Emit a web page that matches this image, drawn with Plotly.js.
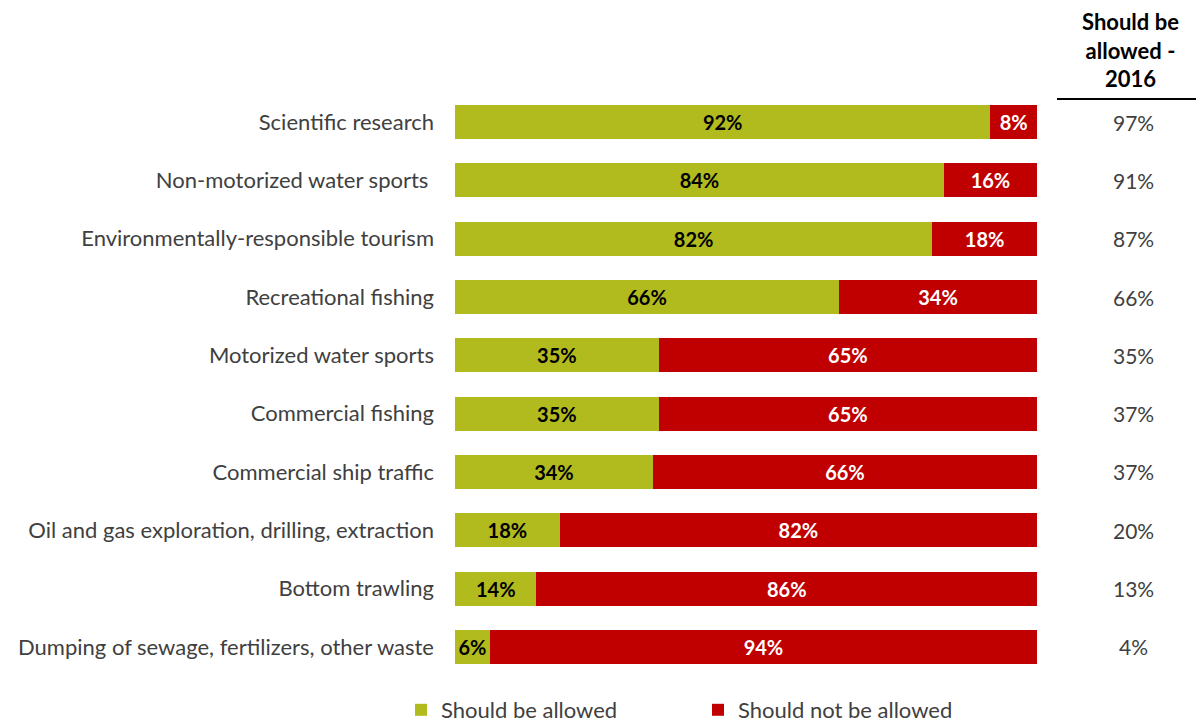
<!DOCTYPE html>
<html>
<head>
<meta charset="utf-8">
<script src="https://cdn.plot.ly/plotly-3.0.1.min.js"></script>
<style>html,body{margin:0;padding:0;background:#fff;}#chart{width:1196px;height:722px;}</style>
</head>
<body>
<div id="chart"></div>
<script>
const categories = [
  "Scientific research",
  "Non-motorized water sports ",
  "Environmentally-responsible tourism",
  "Recreational fishing",
  "Motorized water sports",
  "Commercial fishing",
  "Commercial ship traffic",
  "Oil and gas exploration, drilling, extraction",
  "Bottom trawling",
  "Dumping of sewage, fertilizers, other waste"
];
const allowed = [92, 84, 82, 66, 35, 35, 34, 18, 14, 6];
const notAllowed = [8, 16, 18, 34, 65, 65, 66, 82, 86, 94];
const allowed2016 = [97, 91, 87, 66, 35, 37, 37, 20, 13, 4];
const seriesNames = ["Should be allowed", "Should not be allowed"];
const columnHeader = "Should be<br>allowed -<br>2016";

const FONT = "Lato, 'Open Sans', sans-serif";
const W = 1196, H = 722;
const plotLeft = 455, plotRight = 1037, plotTop = 93, plotBottom = 676;
const plotW = plotRight - plotLeft, plotH = plotBottom - plotTop;

const traces = [
  {
    type: "bar", orientation: "h", name: seriesNames[0],
    y: categories, x: allowed,
    marker: {color: "#B2BB1E"},
    texttemplate: "<b>%{x}%</b>", textposition: "inside", insidetextanchor: "middle",
    textfont: {family: FONT, size: 20, color: "#000000"},
    hoverinfo: "skip"
  },
  {
    type: "bar", orientation: "h", name: seriesNames[1],
    y: categories, x: notAllowed,
    marker: {color: "#C00000"},
    texttemplate: "<b>%{x}%</b>", textposition: "inside", insidetextanchor: "middle",
    textfont: {family: FONT, size: 20, color: "#FFFFFF"},
    hoverinfo: "skip"
  }
];

const annotations = categories.map((c, i) => ({
  xref: "paper", yref: "y", x: (1133 - plotLeft) / plotW, y: c,
  text: allowed2016[i] + "%", showarrow: false, xanchor: "center", yanchor: "middle",
  font: {family: FONT, size: 21, color: "#404040"}
}));
annotations.push({
  xref: "paper", yref: "paper",
  x: (1130 - plotLeft) / plotW,
  y: (plotBottom - 50) / plotH,
  text: "<b>" + columnHeader + "</b>", showarrow: false, xanchor: "center", yanchor: "middle",
  align: "center",
  font: {family: FONT, size: 22, color: "#000000"}
});

const layout = {
  width: W, height: H,
  margin: {l: plotLeft, r: W - plotRight, t: plotTop, b: H - plotBottom, pad: 0, autoexpand: false},
  barmode: "stack",
  bargap: 0.417,
  paper_bgcolor: "#ffffff", plot_bgcolor: "#ffffff",
  font: {family: FONT, color: "#404040"},
  uniformtext: {minsize: 20, mode: "show"},
  xaxis: {range: [0, 100], showgrid: false, zeroline: false, showticklabels: false, showline: false, fixedrange: true},
  yaxis: {
    type: "category", autorange: "reversed", showgrid: false, zeroline: false, showline: false,
    ticks: "", ticklabelstandoff: 20, automargin: false,
    tickfont: {family: FONT, size: 22, color: "#404040"}, fixedrange: true
  },
  showlegend: true,
  legend: {
    orientation: "h", x: (401 - plotLeft) / plotW, xanchor: "left",
    y: -(710 - plotBottom) / plotH, yanchor: "middle", traceorder: "normal",
    font: {family: FONT, size: 22, color: "#404040"},
    entrywidth: 252, entrywidthmode: "pixels", itemwidth: 30
  },
  shapes: [{
    type: "line", xref: "paper", yref: "paper",
    x0: (1057 - plotLeft) / plotW, x1: (1196 - plotLeft) / plotW,
    y0: (plotBottom - 99) / plotH, y1: (plotBottom - 99) / plotH,
    line: {color: "#000000", width: 2}
  }],
  annotations: annotations
};

Plotly.newPlot("chart", traces, layout, {displayModeBar: false, staticPlot: true});
</script>
</body>
</html>
